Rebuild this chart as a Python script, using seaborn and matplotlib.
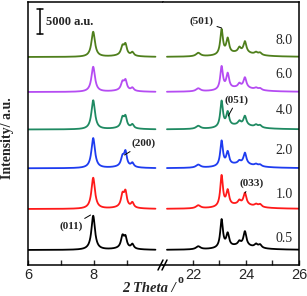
import numpy as np
import pandas as pd
import matplotlib
matplotlib.use("Agg")
import matplotlib.pyplot as plt
import seaborn as sns
from matplotlib.lines import Line2D

# ---------------- data ----------------
samples = ["8.0", "6.0", "4.0", "2.0", "1.0", "0.5"]
colors = ["#4f7f1c", "#b54cf2", "#1f8a62", "#1e3cf0", "#ff1a1a", "#000000"]
offsets = [41600, 34600, 27100, 19340, 11200, 3000]   # stacking offsets (a.u.)

# left segment (2theta 6-10)
left_pos = [7.98, 8.87, 8.96, 9.17, 8.90]
left_hwhm = [0.065, 0.055, 0.050, 0.050, 0.35]
left_amp = {
    "8.0": [5000, 1700, 2000, 700, 300],
    "6.0": [5000, 1550, 1850, 600, 300],
    "4.0": [5800, 1900, 2050, 750, 300],
    "2.0": [6000, 1800, 2800, 800, 300],
    "1.0": [6200, 2400, 2850, 1000, 300],
    "0.5": [6800, 2300, 2000, 900, 300],
}

# right segment (2theta 21-26)
right_pos = [22.20, 23.08, 23.31, 23.75, 23.96, 24.38, 24.53, 23.80]
right_hwhm = [0.10, 0.060, 0.065, 0.06, 0.065, 0.07, 0.07, 0.60]
right_amp = {
    "8.0": [700, 5000, 3000, 900, 2200, 450, 450, 900],
    "6.0": [600, 4600, 3000, 700, 2000, 350, 350, 900],
    "4.0": [600, 5200, 2800, 700, 1800, 450, 450, 900],
    "2.0": [600, 5000, 2600, 500, 2200, 350, 350, 900],
    "1.0": [600, 6200, 3000, 700, 2300, 450, 550, 900],
    "0.5": [600, 5600, 2600, 700, 2800, 650, 650, 900],
}

left_range = (6.0, 9.87)
right_range = (21.02, 26.0)

# ---------------- build traces ----------------
def profile(x, pos, hw, amp):
    y = np.zeros_like(x)
    for c, w, a in zip(pos, hw, amp):
        y += a / (1.0 + ((x - c) / w) ** 2)
    return y

xl = np.linspace(*left_range, 900)
xr = np.linspace(*right_range, 1100)
rows = []
for s, off in zip(samples, offsets):
    yl = profile(xl, left_pos, left_hwhm, left_amp[s]) + off
    yr = profile(xr, right_pos, right_hwhm, right_amp[s]) + off
    rows.append(pd.DataFrame({"x": xl, "y": yl, "sample": s, "seg": "L"}))
    rows.append(pd.DataFrame({"x": xr, "y": yr, "sample": s, "seg": "R"}))
df = pd.concat(rows, ignore_index=True)

# ---------------- figure ----------------
sns.set_style("ticks")
plt.rcParams["font.family"] = ["Liberation Serif", "DejaVu Serif"]

W, H = 307, 296
fig = plt.figure(figsize=(W / 100, H / 100), dpi=100)
axL = fig.add_axes([28 / W, 31 / H, 135 / W, 263 / H])
axR = fig.add_axes([163 / W, 31 / H, 136 / W, 263 / H])

pal = dict(zip(samples, colors))
for ax, seg in ((axL, "L"), (axR, "R")):
    sns.lineplot(data=df[df.seg == seg], x="x", y="y", hue="sample",
                 palette=pal, ax=ax, legend=False, linewidth=1.3,
                 sort=False, estimator=None)
    ax.set_ylim(0, 52600)
    ax.set_yticks([])
    ax.set_xlabel("")
    ax.set_ylabel("")
    for sp in ax.spines.values():
        sp.set_linewidth(1.1)
        sp.set_color("black")
    ax.tick_params(axis="x", which="both", direction="in", length=3.5,
                   width=1.0, pad=2.5, top=False)
    ax.tick_params(axis="y", left=False, right=False)

axL.set_xlim(6.0, 10.1)
axR.set_xlim(20.87, 26.0)
axL.spines["right"].set_visible(False)
axR.spines["left"].set_visible(False)
axL.set_xticks([6, 8])
axL.set_xticks([7, 9], minor=True)
axR.set_xticks([22, 24, 26])
axR.set_xticks([23, 25], minor=True)
for ax in (axL, axR):
    ax.set_xticklabels([str(int(t)) for t in ax.get_xticks()],
                       family="Liberation Sans", fontsize=10.5)

# axis break marks
def fx(px):
    return px / W
def fy(py):
    return 1 - py / H
for dx in (0, 4):
    fig.add_artist(Line2D([fx(158 + dx), fx(163 + dx)], [fy(270), fy(260)],
                          color="black", lw=1.1))

# sample labels
label_y = [45000, 38200, 31000, 23000, 14200, 5400]
for s, yv in zip(samples, label_y):
    axR.text(25.44, yv, s, ha="center", va="center", fontsize=10)

# scale bar
bar_x = 6.37
axL.plot([bar_x, bar_x], [46200, 51200], color="black", lw=1.1)
axL.plot([bar_x - 0.09, bar_x + 0.09], [46200, 46200], color="black", lw=1.1)
axL.plot([bar_x - 0.09, bar_x + 0.09], [51200, 51200], color="black", lw=1.1)
axL.text(6.55, 48600, "5000 a.u.", ha="left", va="center", fontsize=9,
         fontweight="bold")

# reflections
akw = dict(fontsize=8, fontweight="bold", ha="center", va="center",
           arrowprops=dict(arrowstyle="-", color="black", lw=0.7,
                           shrinkA=0, shrinkB=0))
axR.annotate("(501)", xy=(23.08, 47400), xytext=(22.33, 48700), **akw)
axR.annotate("(051)", xy=(23.33, 29800), xytext=(23.66, 33000), **akw)
axL.annotate("(200)", xy=(8.93, 22000), xytext=(9.50, 24300), **akw)
axR.annotate("(033)", xy=(23.96, 14400), xytext=(24.22, 16300), **akw)
axL.annotate("(011)", xy=(7.90, 10000), xytext=(7.30, 7700), **akw)

# axis titles
fig.text(8 / W, fy(138), "Intensity/ a.u.", rotation=90, ha="center",
         va="center", fontsize=10, fontweight="bold")
fig.text(149 / W, fy(289), "2 Theta /", ha="center", va="center",
         fontsize=10.5, fontweight="bold", fontstyle="italic")
fig.text(180 / W, fy(280), "o", ha="center", va="center",
         fontsize=8.5, fontweight="bold")

fig.savefig("out.png", dpi=100)
